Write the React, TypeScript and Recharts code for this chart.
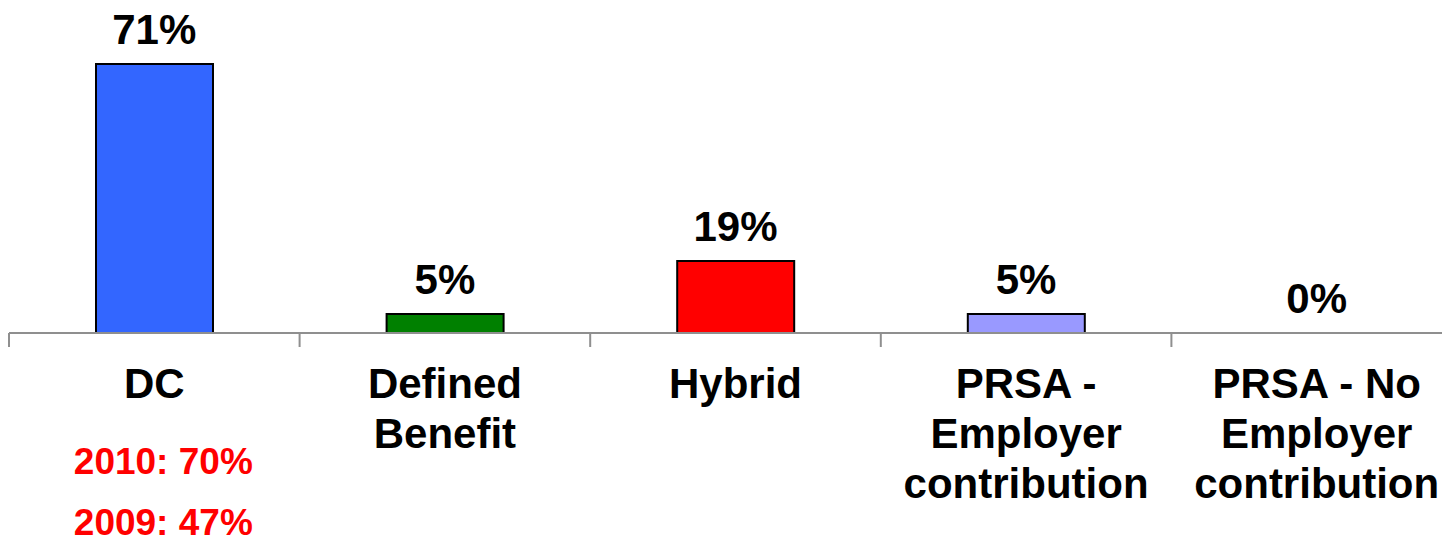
import React from "react";
import { ComposedChart, Bar, Line, XAxis, YAxis, Cell, LabelList } from "recharts";

const categories = ["DC", "Defined Benefit", "Hybrid", "PRSA - Employer contribution", "PRSA - No Employer contribution"];
const categoryLines: string[][] = [
  ["DC"],
  ["Defined", "Benefit"],
  ["Hybrid"],
  ["PRSA -", "Employer", "contribution"],
  ["PRSA - No", "Employer", "contribution"],
];
const values = [71, 5, 19, 5, 0];
const colors = ["#3366FF", "#008000", "#FF0000", "#9999FF", "#CCCCCC"];
const dcNotes = ["2010: 70%", "2009: 47%"];

const data = categories.map((c, i) => ({ name: c, value: values[i] }));

const FONT = "'Liberation Sans', Arial, sans-serif";
const AXIS_GRAY = "#8f8f8f";

const CategoryTick = (props: any) => {
  const { x, y, payload, index } = props;
  const half = payload && typeof payload.offset === "number" ? payload.offset : 145.25;
  const lines = categoryLines[index] || [String(payload.value)];
  return (
    <g>
      <line x1={x - half} y1={y} x2={x - half} y2={y + 14} stroke={AXIS_GRAY} strokeWidth={2} />
      {index === categories.length - 1 && (
        <line x1={x + half} y1={y} x2={x + half} y2={y + 14} stroke={AXIS_GRAY} strokeWidth={2} />
      )}
      {lines.map((l, i) => (
        <text key={i} x={x} y={y + 65 + i * 50} textAnchor="middle" fontFamily={FONT} fontWeight="bold" fontSize={42} fill="#000">
          {l}
        </text>
      ))}
      {index === 0 &&
        dcNotes.map((n, i) => (
          <text key={"n" + i} x={x + 9} y={y + 141 + i * 61} textAnchor="middle" fontFamily={FONT} fontWeight="bold" fontSize={37} fill="#FF0000">
            {n}
          </text>
        ))}
    </g>
  );
};

const ValueLabel = (props: any) => {
  const { x, y, value } = props;
  return (
    <text x={x} y={y - 20} textAnchor="middle" fontFamily={FONT} fontWeight="bold" fontSize={42} fill="#000">
      {value}%
    </text>
  );
};

export default function App() {
  return (
    <div style={{ width: 1442, height: 539, overflow: "hidden", marginTop: -8 }}>
      <ComposedChart width={1454} height={539} data={data} margin={{ top: 30, right: 0, bottom: 0, left: 1 }}>
        <YAxis hide domain={[0, 80]} />
        <XAxis
          dataKey="name"
          height={206}
          interval={0}
          tickSize={0}
          tickMargin={0}
          tickLine={false}
          axisLine={{ stroke: AXIS_GRAY, strokeWidth: 2 }}
          tick={<CategoryTick />}
        />
        <Bar dataKey="value" barSize={117} stroke="#000" strokeWidth={2} isAnimationActive={false}>
          {data.map((d, i) => (
            <Cell key={i} fill={colors[i]} />
          ))}
        </Bar>
        <Line dataKey="value" stroke="none" dot={false} activeDot={false} legendType="none" isAnimationActive={false}>
          <LabelList dataKey="value" content={<ValueLabel />} />
        </Line>
      </ComposedChart>
    </div>
  );
}
